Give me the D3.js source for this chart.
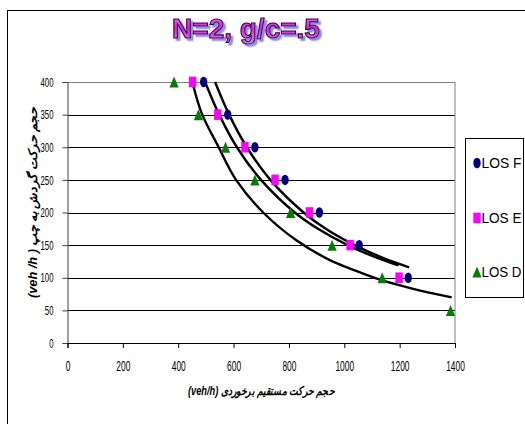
<!DOCTYPE html>
<html>
<head>
<meta charset="utf-8">
<script src="https://cdn.jsdelivr.net/npm/d3@7"></script>
<style>
  html, body { margin: 0; padding: 0; background: #fff; }
  svg { display: block; }
</style>
</head>
<body>
<svg id="chart" width="525" height="424"></svg>
<script>
// ---------- data ----------
const chartTitle = "N=2, g/c=.5";
const xAxisTitle = "حجم حرکت مستقیم برخوردی (veh/h)";
const yAxisTitle = "حجم حرکت گردش به چپ ( veh /h)";
const xTickValues = [0, 200, 400, 600, 800, 1000, 1200, 1400];
const yTickValues = [0, 50, 100, 150, 200, 250, 300, 350, 400];
const seriesNames = ["LOS F", "LOS E", "LOS D"];

const losF_x = [492, 579, 677, 786, 910, 1054, 1231];
const losF_y = [400, 350, 300, 250, 200, 150, 100];
const losE_x = [452, 543, 641, 750, 874, 1021, 1198];
const losE_y = [400, 350, 300, 250, 200, 150, 100];
const losD_x = [385, 473, 571, 677, 806, 956, 1137, 1384];
const losD_y = [400, 350, 300, 250, 200, 150, 100, 50];

// trend lines
const trendF = [[533,400],[584,350],[648,300],[733,250],[853,200],[933,175],[1037,150],[1142,130],[1234,116]];
const trendE = [[497,400],[548,350],[612,300],[699,250],[821,200],[905,175],[1012,150],[1122,130],[1196,119]];
const trendD = [[451,400],[485,352],[545,301],[609,250],[707,200],[828,157],[948,127],[1033,112],[1129,97],[1249,83],[1388,70]];

// ---------- drawing ----------
const svg = d3.select("#chart");
const x = d3.scaleLinear().domain([0, 1400]).range([67.5, 455]);
const y = d3.scaleLinear().domain([0, 400]).range([343, 82]);

const defs = svg.append("defs");
const grad = defs.append("linearGradient").attr("id", "wa").attr("x1", 0).attr("y1", 0).attr("x2", 0).attr("y2", 1);
grad.append("stop").attr("offset", "0%").attr("stop-color", "#f070f0");
grad.append("stop").attr("offset", "50%").attr("stop-color", "#e020e0");
grad.append("stop").attr("offset", "100%").attr("stop-color", "#f080f0");
const flt = defs.append("filter").attr("id", "shadow").attr("x", "-10%").attr("y", "-20%")
  .attr("width", "130%").attr("height", "160%");
flt.append("feDropShadow").attr("dx", 2.5).attr("dy", 2.5).attr("stdDeviation", 0.3)
  .attr("flood-color", "#8c8cf0").attr("flood-opacity", 1);

// outer chart border
svg.append("rect").attr("x", 7.5).attr("y", 10.5).attr("width", 530).attr("height", 430)
  .attr("fill", "#fff").attr("stroke", "#000").attr("stroke-width", 1);

// gridlines
svg.append("g").selectAll("line").data(yTickValues.filter(v => v > 0)).join("line")
  .attr("x1", x(0)).attr("x2", x(1400))
  .attr("y1", d => Math.round(y(d)) + 0.5).attr("y2", d => Math.round(y(d)) + 0.5)
  .attr("stroke", d => d === 400 ? "#808080" : "#000").attr("stroke-width", 1);

// right border of plot area
svg.append("line").attr("x1", x(1400)).attr("x2", x(1400)).attr("y1", y(400)).attr("y2", y(0))
  .attr("stroke", "#808080").attr("stroke-width", 1);

// axes
const fontTick = "'Liberation Sans', Arial, sans-serif";
const yAxis = svg.append("g").attr("transform", `translate(${x(0)},0)`)
  .call(d3.axisLeft(y).tickValues(yTickValues).tickSize(5).tickPadding(0).tickFormat(d3.format("d")));
yAxis.select(".domain").attr("stroke", "#404040");
yAxis.selectAll(".tick line").attr("stroke", "#404040");
yAxis.selectAll("text").attr("font-family", fontTick).attr("font-size", 13)
  .attr("fill", "#000").attr("x", 0)
  .attr("transform", "translate(-14,0) scale(0.6,1)");

const xAxis = svg.append("g").attr("transform", `translate(0,${y(0)})`)
  .call(d3.axisBottom(x).tickValues(xTickValues).tickSize(5).tickPadding(0).tickFormat(d3.format("d")));
xAxis.select(".domain").attr("stroke", "#000");
xAxis.selectAll(".tick line").attr("stroke", "#000");
xAxis.selectAll("text").attr("font-family", fontTick).attr("font-size", 14)
  .attr("fill", "#000").attr("y", 0)
  .attr("transform", "translate(0,18) scale(0.6,1)");

// trend lines
const line = d3.line().x(d => x(d[0])).y(d => y(d[1])).curve(d3.curveCatmullRom);
[trendD, trendE, trendF].forEach(t => {
  svg.append("path").attr("d", line(t)).attr("fill", "none")
    .attr("stroke", "#000").attr("stroke-width", 2.4).attr("stroke-linejoin", "round");
});

// markers
const triPath = "M0,-5.5L4.6,5.5L-4.6,5.5Z";
svg.append("g").selectAll("path").data(d3.zip(losD_x, losD_y)).join("path")
  .attr("d", triPath).attr("transform", d => `translate(${x(d[0])},${y(d[1])})`)
  .attr("fill", "#008000");
svg.append("g").selectAll("rect").data(d3.zip(losE_x, losE_y)).join("rect")
  .attr("x", d => x(d[0]) - 3.7).attr("y", d => y(d[1]) - 5.3)
  .attr("width", 7.4).attr("height", 10.6).attr("fill", "#ff00ff");
svg.append("g").selectAll("ellipse").data(d3.zip(losF_x, losF_y)).join("ellipse")
  .attr("cx", d => x(d[0])).attr("cy", d => y(d[1]))
  .attr("rx", 3.7).attr("ry", 5.2).attr("fill", "#000080");

// legend
const lg = svg.append("g");
lg.append("rect").attr("x", 465.5).attr("y", 138.5).attr("width", 58).attr("height", 159)
  .attr("fill", "#fff").attr("stroke", "#000").attr("stroke-width", 1);
const legY = [163, 218, 272];
lg.append("ellipse").attr("cx", 477).attr("cy", legY[0]).attr("rx", 3.7).attr("ry", 5.2).attr("fill", "#000080");
lg.append("rect").attr("x", 473.3).attr("y", legY[1] - 5.3).attr("width", 7.4).attr("height", 10.6).attr("fill", "#ff00ff");
lg.append("path").attr("d", triPath).attr("transform", `translate(477,${legY[2]})`).attr("fill", "#008000");
lg.selectAll("text").data(seriesNames).join("text")
  .attr("x", 481.5).attr("y", (d, i) => legY[i] + 5)
  .attr("font-family", fontTick).attr("font-size", 14).attr("fill", "#000")
  .attr("textLength", 40).attr("lengthAdjust", "spacingAndGlyphs")
  .text(d => d);

// axis titles
const fontTitle = "'Liberation Sans', 'DejaVu Sans', Arial, sans-serif";
svg.append("text").attr("x", 261).attr("y", 395).attr("text-anchor", "middle")
  .attr("font-family", fontTitle).attr("font-size", 12).attr("font-weight", "bold")
  .attr("font-style", "italic").attr("direction", "rtl")
  .attr("textLength", 146).attr("lengthAdjust", "spacingAndGlyphs").text(xAxisTitle);
svg.append("text").attr("transform", "translate(37,203) rotate(-90)").attr("text-anchor", "middle")
  .attr("font-family", fontTitle).attr("font-size", 12).attr("font-weight", "bold")
  .attr("font-style", "italic").attr("direction", "rtl")
  .attr("textLength", 190).attr("lengthAdjust", "spacingAndGlyphs").text(yAxisTitle);

// WordArt-like title
svg.append("text").attr("x", 246).attr("y", 38).attr("text-anchor", "middle")
  .attr("font-family", fontTick).attr("font-size", 28).attr("font-weight", "bold")
  .attr("fill", "url(#wa)").attr("stroke", "#300030").attr("stroke-width", 1.1)
  .attr("filter", "url(#shadow)")
  .text(chartTitle);
</script>
</body>
</html>
